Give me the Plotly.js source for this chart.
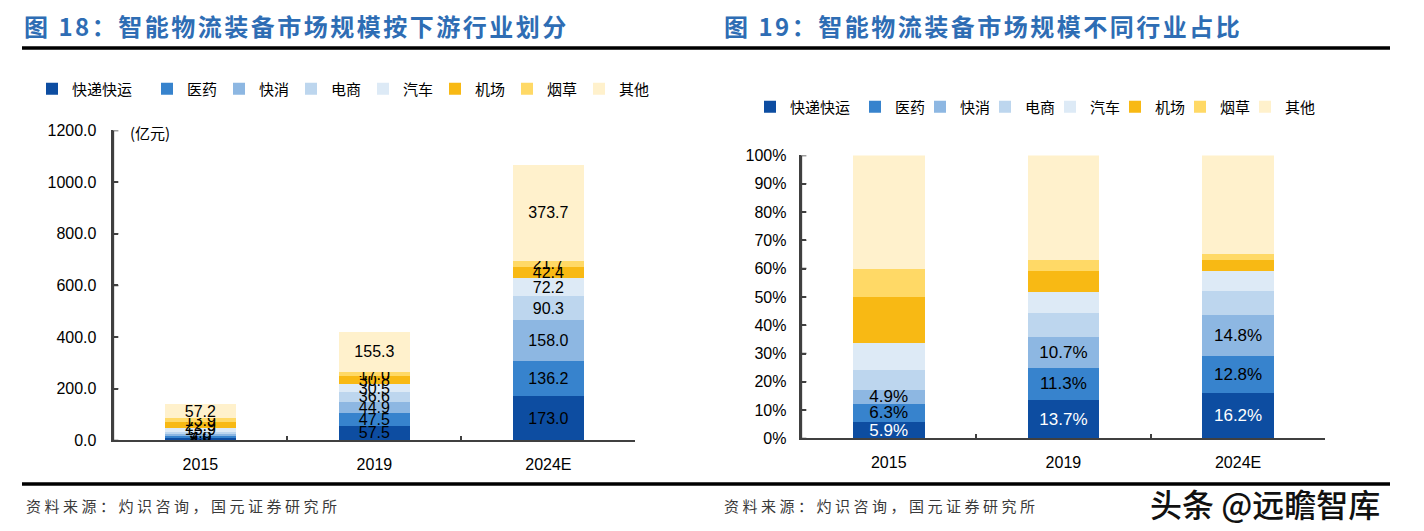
<!DOCTYPE html>
<html>
<head>
<meta charset="utf-8">
<script src="https://cdn.plot.ly/plotly-3.0.1.min.js"></script>
<style>
html,body{margin:0;padding:0;background:#fff;}
#chart{width:1424px;height:531px;}
g.annotation[data-index="0"] text, g.annotation[data-index="1"] text { letter-spacing: 2.5px; }
g.annotation[data-index="3"] text, g.annotation[data-index="4"] text { letter-spacing: 3.5px; }
</style>
</head>
<body>
<div id="chart"></div>
<script>
// ---- data ----
const years = ['2015', '2019', '2024E'];
const seriesNames = ['快递快运', '医药', '快消', '电商', '汽车', '机场', '烟草', '其他'];
const kuaidi    = [8.4, 57.5, 173.0];
const yiyao     = [9.0, 47.5, 136.2];
const kuaixiao  = [7.0, 44.9, 158.0];
const dianshang = [9.8, 36.6, 90.3];
const qiche     = [13.9, 30.5, 72.2];
const jichang   = [22.9, 30.8, 42.4];
const yancao    = [13.9, 17.0, 21.7];
const qita      = [57.2, 155.3, 373.7];
const leftTicks  = [0, 200, 400, 600, 800, 1000, 1200];
const rightTicks = [0, 10, 20, 30, 40, 50, 60, 70, 80, 90, 100];

const titleLeft = '图 18：智能物流装备市场规模按下游行业划分';
const titleRight = '图 19：智能物流装备市场规模不同行业占比';
const unitLabel = '(亿元)';
const sourceText = '资料来源：灼识咨询，国元证券研究所';
const watermark = '头条 @远瞻智库';

// ---- styles ----
const colors = ['#0D4DA1', '#3783CD', '#8DB7E2', '#BDD6EE', '#DDEAF6', '#F8B914', '#FFD966', '#FFF1CC'];
const allSeries = [kuaidi, yiyao, kuaixiao, dianshang, qiche, jichang, yancao, qita];
const W = 1424, H = 531;
const px = x => x / W;
const py = y => 1 - y / H;
const numFont = 'Liberation Sans, Arial, sans-serif';
const cjkFont = 'Noto Sans CJK SC, sans-serif';
const axisColor = '#404040';
const lastIdx = allSeries.length - 1;

const totals = years.map((_, j) => allSeries.reduce((s, arr) => s + arr[j], 0));

const traces = [];
allSeries.forEach((vals, i) => {
  traces.push({
    type: 'bar', x: years, y: vals, name: seriesNames[i],
    xaxis: 'x', yaxis: 'y', legend: 'legend',
    legendwidth: i === 0 ? 70 : (i === lastIdx ? 34 : 27),
    marker: {color: colors[i], line: {width: 0}},
    texttemplate: '%{y:.1f}', textposition: 'inside', insidetextanchor: 'middle',
    textangle: 0, constraintext: 'none',
    textfont: {family: numFont, size: 16, color: '#000'},
    hoverinfo: 'x+y+name'
  });
});
allSeries.forEach((vals, i) => {
  const shares = vals.map((v, j) => v / totals[j] * 100);
  const showText = i < 3;
  traces.push({
    type: 'bar', x: years, y: shares, name: seriesNames[i],
    xaxis: 'x2', yaxis: 'y2', legend: 'legend2',
    legendwidth: i === 0 ? 60 : (i === lastIdx ? 34 : 20),
    marker: {color: colors[i], line: {width: 0}},
    text: shares.map(v => v.toFixed(1) + '%'),
    texttemplate: showText ? '%{text}' : '',
    textposition: showText ? 'inside' : 'none', insidetextanchor: 'middle',
    textangle: 0, constraintext: 'none',
    textfont: {family: numFont, size: 17, color: i === 0 ? '#fff' : '#000'},
    hoverinfo: 'x+text+name'
  });
});

const axisCommon = {
  showgrid: false, zeroline: false, showline: true,
  linecolor: axisColor, linewidth: 1.5,
  ticks: 'inside', ticklen: 5, tickwidth: 1.5, tickcolor: axisColor,
  tickfont: {family: numFont, size: 16, color: '#000'}
};

// y-axis spine and inside ticks drawn as axis-referenced shapes
function yAxisShapes(xref, yref, tickVals) {
  const out = [{type: 'line', xref: xref + ' domain', yref: yref + ' domain', x0: 0, x1: 0, y0: 0, y1: 1,
                line: {color: axisColor, width: 1.5}}];
  tickVals.forEach(v => out.push({type: 'line', xref: xref + ' domain', xsizemode: 'pixel', xanchor: 0, x0: 0, x1: 5,
                                   yref: yref, y0: v, y1: v, line: {color: axisColor, width: 1.5}}));
  return out;
}

const layout = {
  width: W, height: H, autosize: false,
  margin: {l: 0, r: 0, t: 0, b: 0},
  paper_bgcolor: '#fff', plot_bgcolor: '#fff',
  barmode: 'stack', bargap: 0.59,
  showlegend: true,
  xaxis: Object.assign({}, axisCommon, {
    domain: [px(113.4), px(635.4)], anchor: 'y', type: 'category',
    tickson: 'boundaries', ticklabelstandoff: 9
  }),
  yaxis: Object.assign({}, axisCommon, {
    domain: [py(440.4), py(130.4)], anchor: 'x', range: [0, 1200],
    tickmode: 'linear', tick0: 0, dtick: 200, tickformat: '.1f', ticklabelstandoff: 12
  }),
  xaxis2: Object.assign({}, axisCommon, {
    domain: [px(801.4), px(1325.4)], anchor: 'y2', type: 'category',
    tickson: 'boundaries', ticklabelstandoff: 9
  }),
  yaxis2: Object.assign({}, axisCommon, {
    domain: [py(438.4), py(155.4)], anchor: 'x2', range: [0, 100],
    tickmode: 'linear', tick0: 0, dtick: 10, ticksuffix: '%', ticklabelstandoff: 10
  }),
  legend: {
    orientation: 'h', x: px(32), y: py(89), xanchor: 'left', yanchor: 'middle',
    bgcolor: 'rgba(0,0,0,0)', borderwidth: 0,
    font: {family: cjkFont, size: 15, color: '#000'},
    traceorder: 'normal'
  },
  legend2: {
    orientation: 'h', x: px(750), y: py(107), xanchor: 'left', yanchor: 'middle',
    bgcolor: 'rgba(0,0,0,0)', borderwidth: 0,
    font: {family: cjkFont, size: 15, color: '#000'},
    traceorder: 'normal'
  },
  shapes: [
    {type: 'line', xref: 'paper', yref: 'paper', x0: px(22), x1: px(712), y0: py(48), y1: py(48), line: {color: '#000', width: 3.5}},
    {type: 'line', xref: 'paper', yref: 'paper', x0: px(712), x1: px(1390), y0: py(48), y1: py(48), line: {color: '#000', width: 3.5}},
    {type: 'line', xref: 'paper', yref: 'paper', x0: px(22), x1: px(1390), y0: py(484), y1: py(484), line: {color: '#000', width: 3.5}}
  ].concat(yAxisShapes('x', 'y', leftTicks), yAxisShapes('x2', 'y2', rightTicks)),
  annotations: [
    {text: titleLeft, xref: 'paper', yref: 'paper', x: px(22), y: py(26), xanchor: 'left', yanchor: 'middle', align: 'left', showarrow: false,
     font: {family: cjkFont, size: 24, color: '#2E6DB4', weight: 700}},
    {text: titleRight, xref: 'paper', yref: 'paper', x: px(722), y: py(26), xanchor: 'left', yanchor: 'middle', align: 'left', showarrow: false,
     font: {family: cjkFont, size: 24, color: '#2E6DB4', weight: 700}},
    {text: unitLabel, xref: 'paper', yref: 'paper', x: px(128), y: py(133), xanchor: 'left', yanchor: 'middle', align: 'left', showarrow: false,
     font: {family: cjkFont, size: 15, color: '#000'}},
    {text: sourceText, xref: 'paper', yref: 'paper', x: px(24), y: py(505), xanchor: 'left', yanchor: 'middle', align: 'left', showarrow: false,
     font: {family: cjkFont, size: 15, color: '#3A3A3A'}},
    {text: sourceText, xref: 'paper', yref: 'paper', x: px(722), y: py(505), xanchor: 'left', yanchor: 'middle', align: 'left', showarrow: false,
     font: {family: cjkFont, size: 15, color: '#3A3A3A'}},
    {text: watermark, xref: 'paper', yref: 'paper', x: px(1148), y: py(503), xanchor: 'left', yanchor: 'middle', align: 'left', showarrow: false,
     font: {family: cjkFont, size: 32, color: '#111', weight: 500, shadow: '1px 1px 0 #fff, -1px -1px 0 #fff, 1px -1px 0 #fff, -1px 1px 0 #fff'}}
  ]
};

Plotly.newPlot('chart', traces, layout, {displayModeBar: false});
</script>
</body>
</html>
